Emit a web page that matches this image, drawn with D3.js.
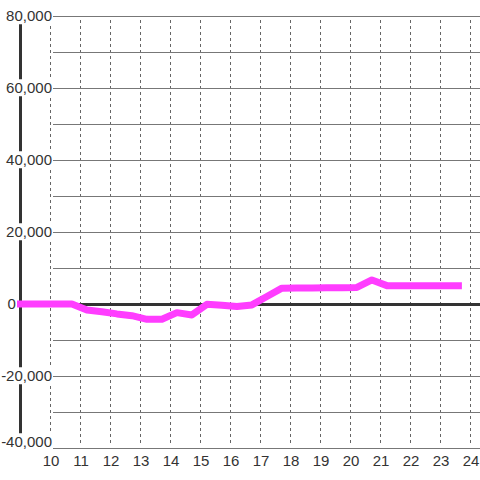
<!DOCTYPE html>
<html>
<head>
<meta charset="utf-8">
<script src="https://cdn.jsdelivr.net/npm/d3@7"></script>
<style>
  body { margin: 0; background: #fff; }
  text { font-family: "Liberation Sans", Arial, sans-serif; font-size: 15px; fill: #333; }
</style>
</head>
<body>
<svg id="chart" width="480" height="480"></svg>
<script>
// hours of the day (x) and the running value (y)
const hours = [8.9, 10.73, 11.23, 11.73, 12.23, 12.73, 13.23, 13.73, 14.23, 14.73,
  15.23, 15.73, 16.23, 16.73, 17.23, 17.73, 18.23, 18.73, 19.23, 19.73,
  20.23, 20.73, 21.23, 21.73, 22.23, 22.73, 23.23, 23.73];
const values = [0, 0, -1670, -2150, -2750, -3250, -4250, -4250, -2400, -3050,
  -100, -350, -700, -250, 2100, 4400, 4420, 4450, 4480, 4520,
  4600, 6670, 5100, 5100, 5100, 5100, 5100, 5100];

const xTicks = [10, 11, 12, 13, 14, 15, 16, 17, 18, 19, 20, 21, 22, 23, 24];
const yLabels = [-40000, -20000, 0, 20000, 40000, 60000, 80000];
const yGrid = [-40000, -30000, -20000, -10000, 10000, 20000, 30000, 40000, 50000, 60000, 70000, 80000];

const svg = d3.select("#chart");
const x = d3.scaleLinear().domain([10, 24]).range([50, 470]);
const y = d3.scaleLinear().domain([-40000, 80000]).range([448, 16]);
const fmt = d3.formatLocale({decimal: ".", thousands: ",", grouping: [3], currency: ["", ""], minus: "-"}).format(",");

// vertical dotted grid
svg.append("g").selectAll("line")
  .data(xTicks).join("line")
    .attr("x1", d => x(d) + 0.5).attr("x2", d => x(d) + 0.5)
    .attr("y1", 20).attr("y2", 446)
    .attr("stroke", "#666")
    .attr("stroke-dasharray", "3,3");

// horizontal grid
svg.append("g").selectAll("line")
  .data(yGrid).join("line")
    .attr("x1", 53).attr("x2", 480)
    .attr("y1", d => y(d) + 0.5).attr("y2", d => y(d) + 0.5)
    .attr("stroke", "#777");

// left axis bar
svg.append("line")
  .attr("x1", 20.5).attr("x2", 20.5)
  .attr("y1", 24).attr("y2", 435)
  .attr("stroke", "#333").attr("stroke-width", 3);

// zero line
svg.append("line")
  .attr("x1", 20).attr("x2", 480)
  .attr("y1", y(0) + 0.5).attr("y2", y(0) + 0.5)
  .attr("stroke", "#333").attr("stroke-width", 3);

// y labels with white backing
const yl = svg.append("g").selectAll("g")
  .data(yLabels).join("g");
yl.append("text")
  .attr("x", d => d === 0 ? 7.5 : 52)
  .attr("y", d => Math.min(y(d), 442))
  .attr("dy", "0.35em")
  .attr("text-anchor", d => d === 0 ? "start" : "end")
  .text(d => fmt(d));
yl.filter(d => d !== 0).insert("rect", "text")
  .each(function() {
    const b = this.parentNode.querySelector("text").getBBox();
    d3.select(this)
      .attr("x", b.x - 1).attr("y", b.y)
      .attr("width", b.width + 2).attr("height", b.height)
      .attr("fill", "#fff");
  });

// x labels
svg.append("g").selectAll("text")
  .data(xTicks).join("text")
    .attr("x", d => x(d) + 1)
    .attr("y", 466)
    .attr("text-anchor", "middle")
    .text(d => d);

// the series
const line = d3.line()
  .x((d, i) => x(hours[i]))
  .y(d => y(d));
svg.append("path")
  .datum(values)
  .attr("d", line)
  .attr("fill", "none")
  .attr("stroke", "#ff3dff")
  .attr("stroke-width", 7)
  .attr("stroke-linejoin", "round");
</script>
</body>
</html>
